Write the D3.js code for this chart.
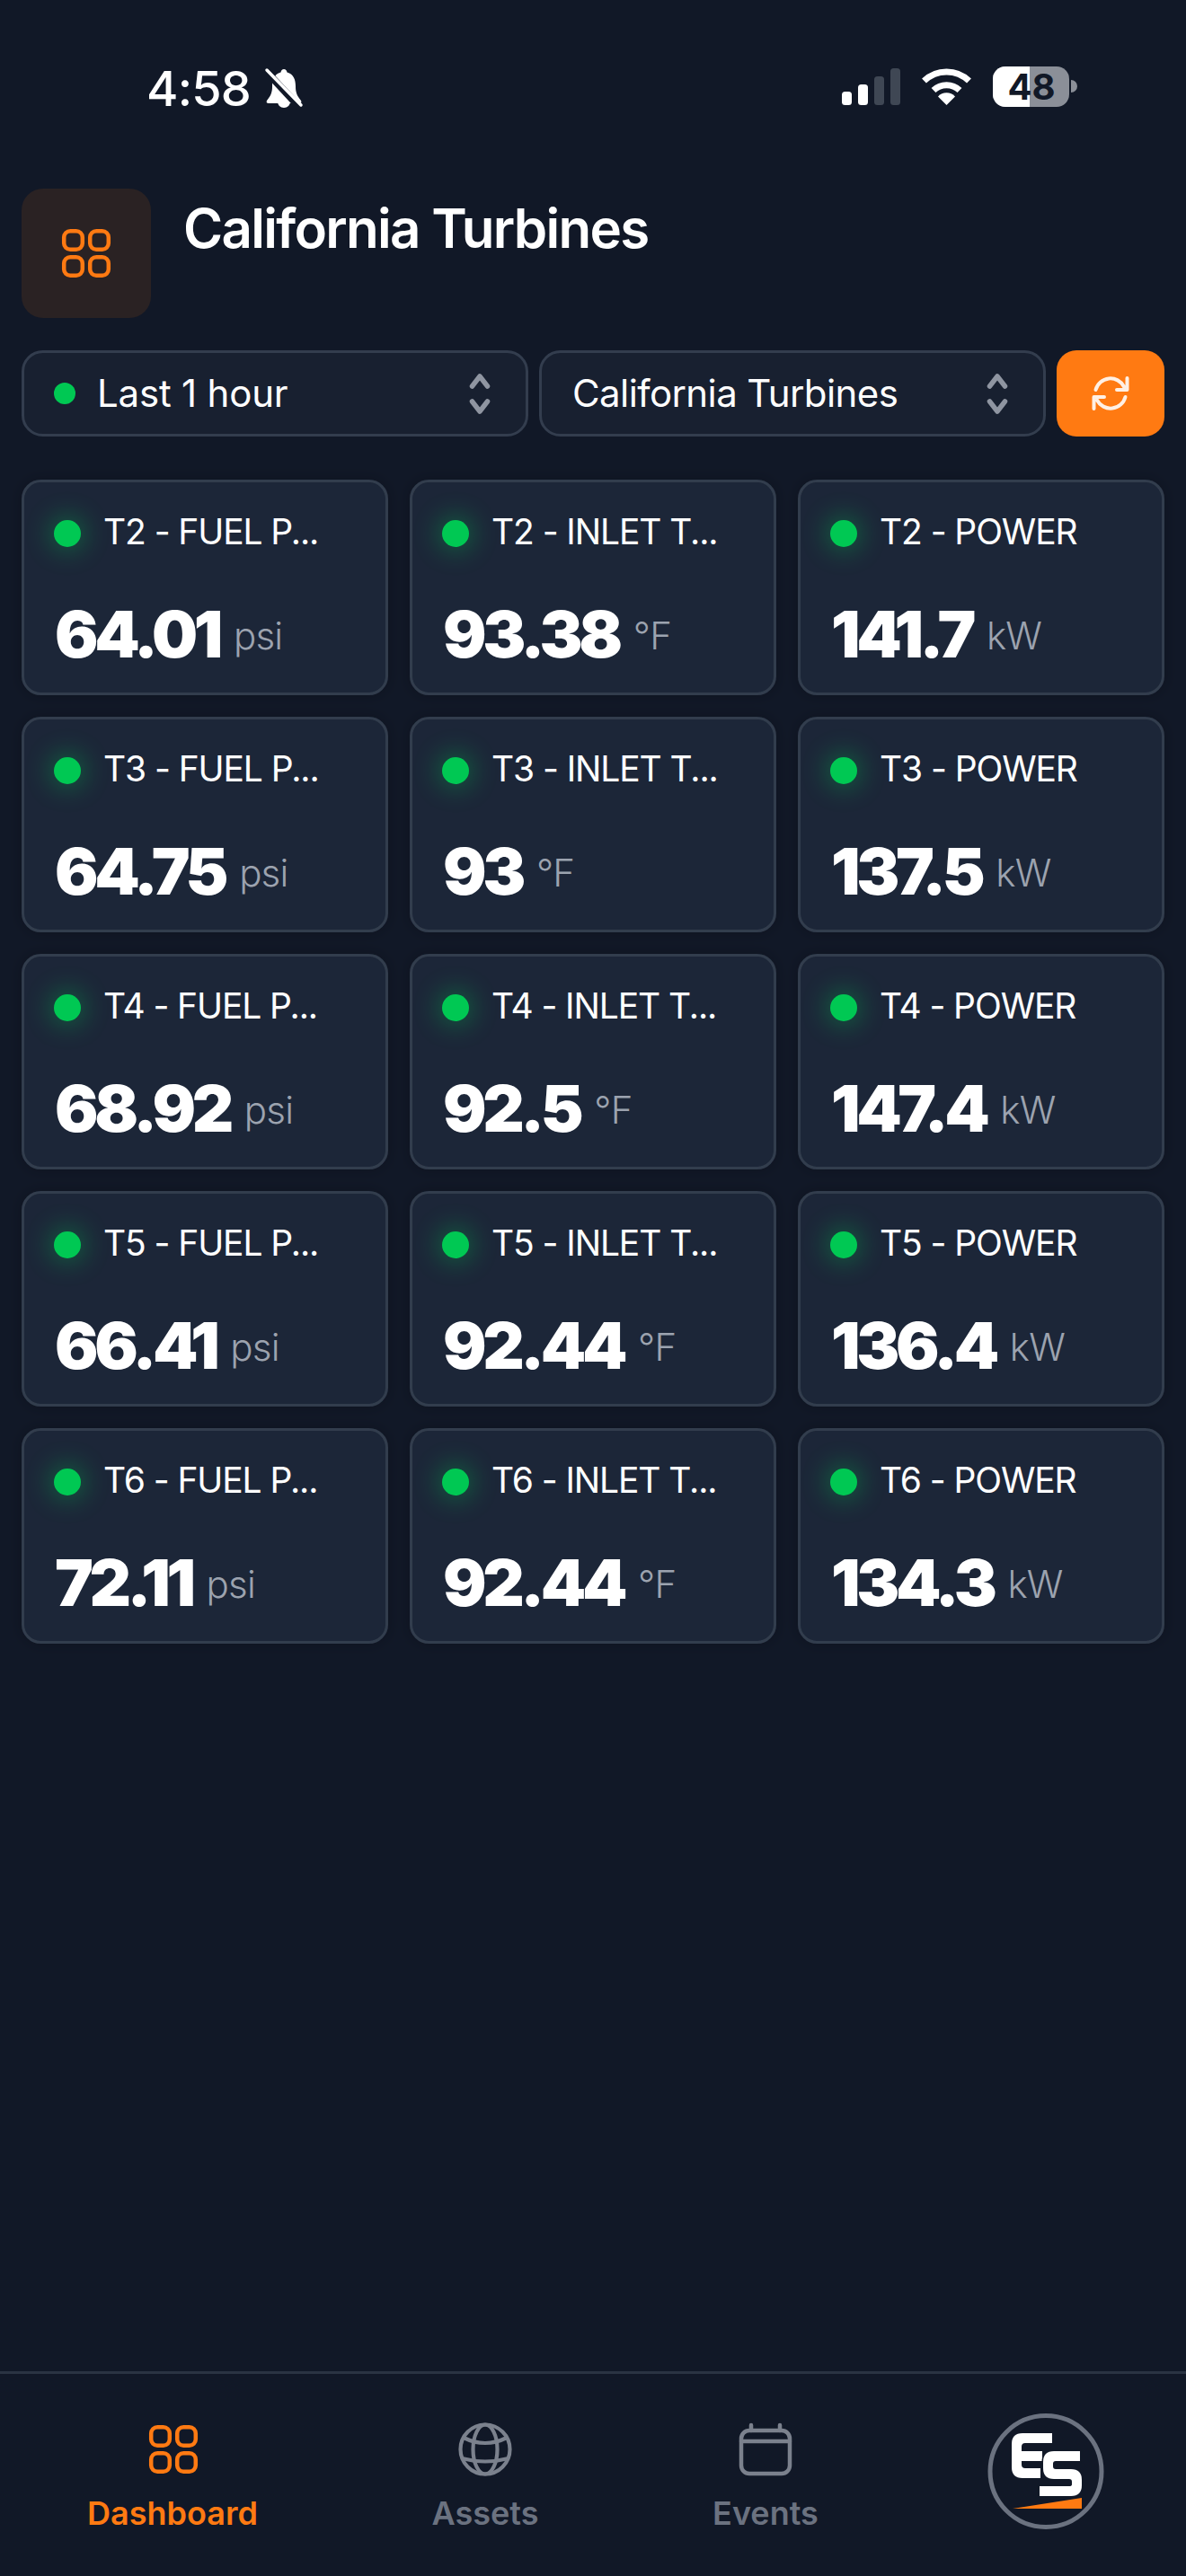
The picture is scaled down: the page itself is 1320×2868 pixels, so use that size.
<!DOCTYPE html>
<html>
<head>
<meta charset="utf-8">
<script src="https://cdn.jsdelivr.net/npm/d3@7"></script>
<style>
  html, body { margin: 0; padding: 0; background: #111827; }
  svg { display: block; }
  text { font-family: Inter, "Noto Sans", sans-serif; }
</style>
</head>
<body>
<div id="chart"></div>
<script>
// Values
const turbines = ["T2", "T3", "T4", "T5", "T6"];
const metrics = ["FUEL P...", "INLET T...", "POWER"];
const units = ["psi", "°F", "kW"];
const fuelPressure = [64.01, 64.75, 68.92, 66.41, 72.11];
const inletTemp = [93.38, 93, 92.5, 92.44, 92.44];
const power = [141.7, 137.5, 147.4, 136.4, 134.3];
const seriesValues = [fuelPressure, inletTemp, power];
const navItems = ["Dashboard", "Assets", "Events"];

const width = 1320, height = 2868;
const orange = "#ff7a12", green = "#00c853", grey = "#6b7280", iconGrey = "#7b818d";

const svg = d3.select("#chart").append("svg")
  .attr("width", width)
  .attr("height", height)
  .attr("viewBox", `0 0 ${width} ${height}`);

const defs = svg.append("defs");
defs.append("filter").attr("id", "glow")
  .attr("x", "-200%").attr("y", "-200%").attr("width", "500%").attr("height", "500%")
  .append("feGaussianBlur").attr("stdDeviation", 14);
defs.append("filter").attr("id", "shadow")
  .attr("x", "-10%").attr("y", "-10%").attr("width", "120%").attr("height", "120%")
  .append("feDropShadow")
  .attr("dx", 0).attr("dy", 0).attr("stdDeviation", 8)
  .attr("flood-color", "#000").attr("flood-opacity", 0.22);

svg.append("rect").attr("width", width).attr("height", height).attr("fill", "#111827");

// Small helper for the 2x2 grid icon
function gridIcon(parent, x, y, color) {
  const g = parent.append("g").attr("transform", `translate(${x},${y})`)
    .attr("fill", "none").attr("stroke", color).attr("stroke-width", 4.5);
  [[0, 0], [29, 0], [0, 29], [29, 29]].forEach(([dx, dy]) => {
    g.append("rect").attr("x", dx + 2.2).attr("y", dy + 2.2)
      .attr("width", 20.6).attr("height", 20.6).attr("rx", 7);
  });
}

// Status bar
const status = svg.append("g");
status.append("text").attr("x", 163).attr("y", 118)
  .attr("font-size", 54).attr("font-weight", 500).attr("letter-spacing", -0.8).attr("fill", "#fff").text("4:58");
const bell = status.append("g").attr("transform", "translate(295,76)");
bell.append("path").attr("fill", "#fff")
  .attr("d", "M21 1c-2 0-3 1.500-3.500 3.500C10 6.500 8 13 8 20c0 6-1 10-6 16-1 2 0 3 2 3h34c2 0 3-1 2-3-5-6-6-10-6-16 0-7-2-13.500-9.500-15.500C24 2.500 23 1 21 1z");
bell.append("path").attr("fill", "#fff").attr("d", "M14 37h14c0 4-3 7-7 7s-7-3-7-7z");
bell.append("path").attr("stroke", "#111827").attr("stroke-width", 8).attr("d", "M0 2L38 43");
bell.append("path").attr("stroke", "#fff").attr("stroke-width", 3.5).attr("stroke-linecap", "round").attr("d", "M2 2L40 41");

[[937, 15, "#fff"], [955, 23, "#fff"], [973, 32, "#3f4754"], [991, 41, "#3f4754"]].forEach(([x, h, c]) => {
  status.append("rect").attr("x", x).attr("y", 117 - h).attr("width", 11).attr("height", h).attr("rx", 3.5).attr("fill", c);
});

const wifi = status.append("g").attr("transform", "translate(1053.500,117)")
  .attr("fill", "none").attr("stroke", "#fff").attr("stroke-width", 7);
wifi.append("path").attr("d", "M-25 -27A36 36 0 0 1 25 -27");
wifi.append("path").attr("d", "M-14.500 -16.500A21 21 0 0 1 14.500 -16.500");
wifi.append("path").attr("fill", "#fff").attr("stroke", "none").attr("d", "M0 0L-9.500 -9.500A13 13 0 0 1 9.500 -9.500Z");

status.append("rect").attr("x", 1105).attr("y", 74).attr("width", 85).attr("height", 45).attr("rx", 14).attr("fill", "#8b8f98");
defs.append("clipPath").attr("id", "batteryFill").append("rect").attr("x", 1105).attr("y", 74).attr("width", 41).attr("height", 45);
status.append("rect").attr("x", 1105).attr("y", 74).attr("width", 85).attr("height", 45).attr("rx", 14).attr("fill", "#fff").attr("clip-path", "url(#batteryFill)");
status.append("path").attr("d", "M1192 89A7 7 0 0 1 1192 103Z").attr("fill", "#8b8f98");
status.append("text").attr("x", 1148).attr("y", 111).attr("text-anchor", "middle")
  .attr("font-size", 40).attr("font-weight", 700).attr("fill", "#111827").text("48");

// Header
svg.append("rect").attr("x", 24).attr("y", 210).attr("width", 144).attr("height", 144).attr("rx", 24).attr("fill", "#2a2223");
gridIcon(svg, 69, 255, orange);
svg.append("text").attr("x", 204).attr("y", 276)
  .attr("font-size", 60).attr("font-weight", 600).attr("letter-spacing", -1.7).attr("fill", "#fff").text("California Turbines");

// Selects
const selects = [
  { x: 24, w: 564, label: "Last 1 hour", tx: 108, ls: -0.2, dot: true },
  { x: 600, w: 564, label: "California Turbines", tx: 637, ls: -0.6, dot: false }
];
selects.forEach(s => {
  svg.append("rect").attr("x", s.x + 1.5).attr("y", 391.5).attr("width", s.w - 3).attr("height", 93).attr("rx", 22)
    .attr("fill", "#182030").attr("stroke", "#333d4e").attr("stroke-width", 3);
  if (s.dot) svg.append("circle").attr("cx", 72).attr("cy", 438).attr("r", 12).attr("fill", green);
  svg.append("text").attr("x", s.tx).attr("y", 453)
    .attr("font-size", 42).attr("font-weight", 400).attr("letter-spacing", s.ls).attr("fill", "#fff").text(s.label);
  const cx = s.x + s.w - 54;
  svg.append("path")
    .attr("d", `M${cx - 8.500} 430L${cx} 419L${cx + 8.500} 430M${cx - 8.500} 447L${cx} 458L${cx + 8.500} 447`)
    .attr("fill", "none").attr("stroke", "#8f95a1").attr("stroke-width", 5.5).attr("stroke-linecap", "round").attr("stroke-linejoin", "round");
});

// Refresh button
svg.append("rect").attr("x", 1176).attr("y", 390).attr("width", 120).attr("height", 96).attr("rx", 22).attr("fill", orange);
svg.append("path").attr("transform", "translate(1236,438)")
  .attr("d", "M-16.500 -4A17 17 0 0 1 15 -7.500M18.500 -17V-4H7M16.500 4A17 17 0 0 1 -15 7.500M-18.500 17V4H-7")
  .attr("fill", "none").attr("stroke", "#fff0e4").attr("stroke-width", 4).attr("stroke-linecap", "round").attr("stroke-linejoin", "round");

// Card grid
const x = d3.scaleBand().domain(metrics).range([24, 1296]).paddingInner(24 / 432);
const y = d3.scaleBand().domain(turbines).range([534, 1830]).paddingInner(24 / 264);

const cells = turbines.flatMap((turbine, r) => metrics.map((metric, c) => ({
  turbine, metric, unit: units[c], value: seriesValues[c][r]
})));

const card = svg.selectAll("g.card").data(cells).enter().append("g")
  .attr("class", "card")
  .attr("transform", d => `translate(${x(d.metric)},${y(d.turbine)})`);

card.append("rect")
  .attr("x", 1.5).attr("y", 1.5)
  .attr("width", x.bandwidth() - 3).attr("height", y.bandwidth() - 3)
  .attr("rx", 20)
  .attr("fill", "#1c2637").attr("stroke", "#333d4e").attr("stroke-width", 3)
  .attr("filter", "url(#shadow)");

card.append("circle").attr("cx", 51).attr("cy", 60).attr("r", 20)
  .attr("fill", green).attr("opacity", 0.34).attr("filter", "url(#glow)");
card.append("circle").attr("cx", 51).attr("cy", 60).attr("r", 15).attr("fill", green);

card.append("text").attr("x", 91).attr("y", 72)
  .attr("font-size", 39).attr("letter-spacing", -1.1).attr("fill", "#fff")
  .text(d => `${d.turbine} - ${d.metric}`);

const valueText = card.append("text").attr("x", 37).attr("y", 198)
  .attr("font-size", 72).attr("font-weight", 900).attr("letter-spacing", -4.4).attr("fill", "#fff")
  .text(d => d.value);

card.append("text")
  .attr("x", function (d, i) { return 37 + valueText.nodes()[i].getComputedTextLength() + 16; })
  .attr("y", 189)
  .attr("font-size", 42).attr("font-weight", 300).attr("letter-spacing", -0.8).attr("fill", "#9ca3af")
  .text(d => d.unit);

// Bottom nav
svg.append("rect").attr("x", 0).attr("y", 2640).attr("width", width).attr("height", 3).attr("fill", "#2a3342");

const navX = d3.scaleOrdinal().domain(navItems).range([192, 540, 852]);
svg.selectAll("text.nav").data(navItems).enter().append("text")
  .attr("class", "nav")
  .attr("x", d => navX(d)).attr("y", 2811).attr("text-anchor", "middle")
  .attr("font-size", 36).attr("font-weight", 600)
  .attr("fill", d => d === "Dashboard" ? orange : grey)
  .text(d => d);

gridIcon(svg, 166, 2700, orange);

const globe = svg.append("g").attr("transform", "translate(540,2727)")
  .attr("fill", "none").attr("stroke", iconGrey).attr("stroke-width", 4.2);
globe.append("circle").attr("r", 27.5);
globe.append("ellipse").attr("rx", 13.5).attr("ry", 27.5);
globe.append("path").attr("d", "M-24 -13Q0 -1 24 -13M-26 10Q0 17 26 10");

const cal = svg.append("g").attr("transform", "translate(823,2698)")
  .attr("fill", "none").attr("stroke", iconGrey).attr("stroke-width", 4.5).attr("stroke-linecap", "round");
cal.append("rect").attr("x", 2).attr("y", 8).attr("width", 54).attr("height", 48).attr("rx", 9);
cal.append("path").attr("d", "M2 20H56M13 2V8M45 2V8");

// Avatar
svg.append("circle").attr("cx", 1164).attr("cy", 2751.500).attr("r", 62).attr("fill", "none").attr("stroke", grey).attr("stroke-width", 5);
svg.append("path").attr("fill", "#fff")
  .attr("d", "M1171 2709H1138Q1126 2709 1126 2721V2747Q1126 2759 1138 2759H1158V2748H1141Q1137 2748 1137 2744V2740H1160V2729H1137V2724Q1137 2720 1141 2720H1171Z");
svg.append("path").attr("fill", "#fff").attr("stroke", "#111827").attr("stroke-width", 3).attr("paint-order", "stroke")
  .attr("d", "M1202 2729H1173Q1161 2729 1161 2741V2748Q1161 2760 1173 2760H1190Q1193 2760 1193 2763V2766Q1193 2768 1190 2768H1157V2779H1192Q1204 2779 1204 2767V2761Q1204 2749 1192 2749H1175Q1172 2749 1172 2746V2743Q1172 2740 1175 2740H1202Z");
svg.append("path").attr("fill", orange).attr("d", "M1127 2793L1204 2781V2793Z");
</script>
</body>
</html>
